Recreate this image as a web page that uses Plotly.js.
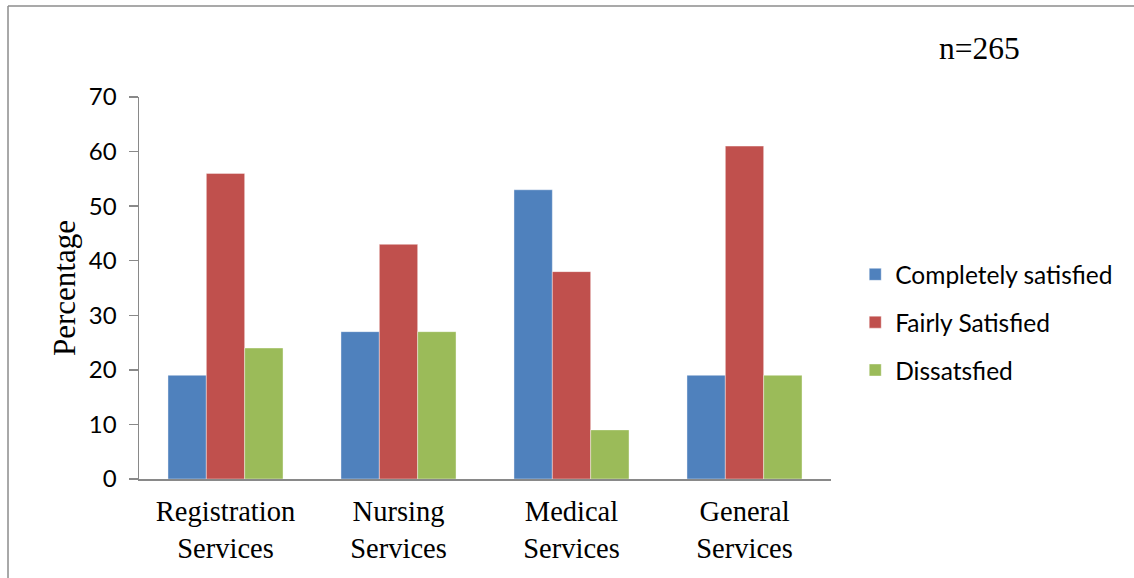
<!DOCTYPE html>
<html>
<head>
<meta charset="utf-8">
<script src="https://cdn.plot.ly/plotly-3.0.1.min.js"></script>
<style>html,body{margin:0;padding:0;background:#fff;}#chart{width:1134px;height:578px;}</style>
</head>
<body>
<div id="chart"></div>
<script>
const categories = ["Registration<br>Services", "Nursing<br>Services", "Medical<br>Services", "General<br>Services"];
const completelySatisfied = [19, 27, 53, 19];
const fairlySatisfied = [56, 43, 38, 61];
const dissatisfied = [24, 27, 9, 19];
const seriesNames = ["Completely satisfied", "Fairly Satisfied", "Dissatsfied"];
const seriesColors = ["#4F81BD", "#C0504D", "#9BBB59"];
const yTicks = [0, 10, 20, 30, 40, 50, 60, 70];

const seriesValues = [completelySatisfied, fairlySatisfied, dissatisfied];
const traces = seriesValues.map((vals, i) => ({
  type: "bar",
  name: seriesNames[i],
  x: categories,
  y: vals,
  legendgroup: "g" + i,
  marker: {color: seriesColors[i], line: {color: "rgba(255,255,255,0.5)", width: 0.8}},
  hoverinfo: "y"
}));

const layout = {
  width: 1134, height: 578,
  margin: {l: 139, r: 303, t: 97, b: 99, autoexpand: false},
  paper_bgcolor: "#fff", plot_bgcolor: "#fff",
  barmode: "group", bargap: 0.335, bargroupgap: 0,
  showlegend: true,
  legend: {
    x: 1.035, xanchor: "left", y: 0.41, yanchor: "middle",
    traceorder: "grouped", tracegroupgap: 13,
    font: {family: "Lato, 'Open Sans', sans-serif", size: 24.5, color: "#000"},
    bgcolor: "rgba(0,0,0,0)"
  },
  xaxis: {
    showline: true, linecolor: "#898989", linewidth: 1.5,
    ticks: "", showgrid: false, zeroline: false,
    tickfont: {family: "'Liberation Serif', 'Times New Roman', serif", size: 28.5, color: "#000"},
    ticklabelstandoff: 6
  },
  yaxis: {
    range: [0, 70], tickvals: yTicks, ticktext: yTicks.map(String),
    showline: true, linecolor: "#898989", linewidth: 1.5,
    ticks: "outside", ticklen: 9, tickcolor: "#898989", tickwidth: 1.5,
    showgrid: false, zeroline: false,
    tickfont: {family: "Lato, 'Open Sans', sans-serif", size: 24, color: "#000"},
    ticklabelstandoff: 7,
    title: {text: "Percentage", font: {family: "'Liberation Serif', 'Times New Roman', serif", size: 31, color: "#000"}, standoff: 4}
  },
  annotations: [{
    text: "n=265", xref: "paper", yref: "paper", x: 1.2153, y: 1.128,
    xanchor: "center", yanchor: "middle", showarrow: false,
    font: {family: "'Liberation Serif', 'Times New Roman', serif", size: 31.5, color: "#000"}
  }],
  shapes: [
    {type: "line", xref: "paper", yref: "paper", x0: -0.1893, x1: -0.1893, y0: -0.3, y1: 1.2382, line: {color: "#8c8c8c", width: 1.5}},
    {type: "line", xref: "paper", yref: "paper", x0: -0.1893, x1: 1.45, y0: 1.2382, y1: 1.2382, line: {color: "#8c8c8c", width: 1.5}}
  ]
};

Plotly.newPlot("chart", traces, layout, {displayModeBar: false, staticPlot: true});
</script>
</body>
</html>
